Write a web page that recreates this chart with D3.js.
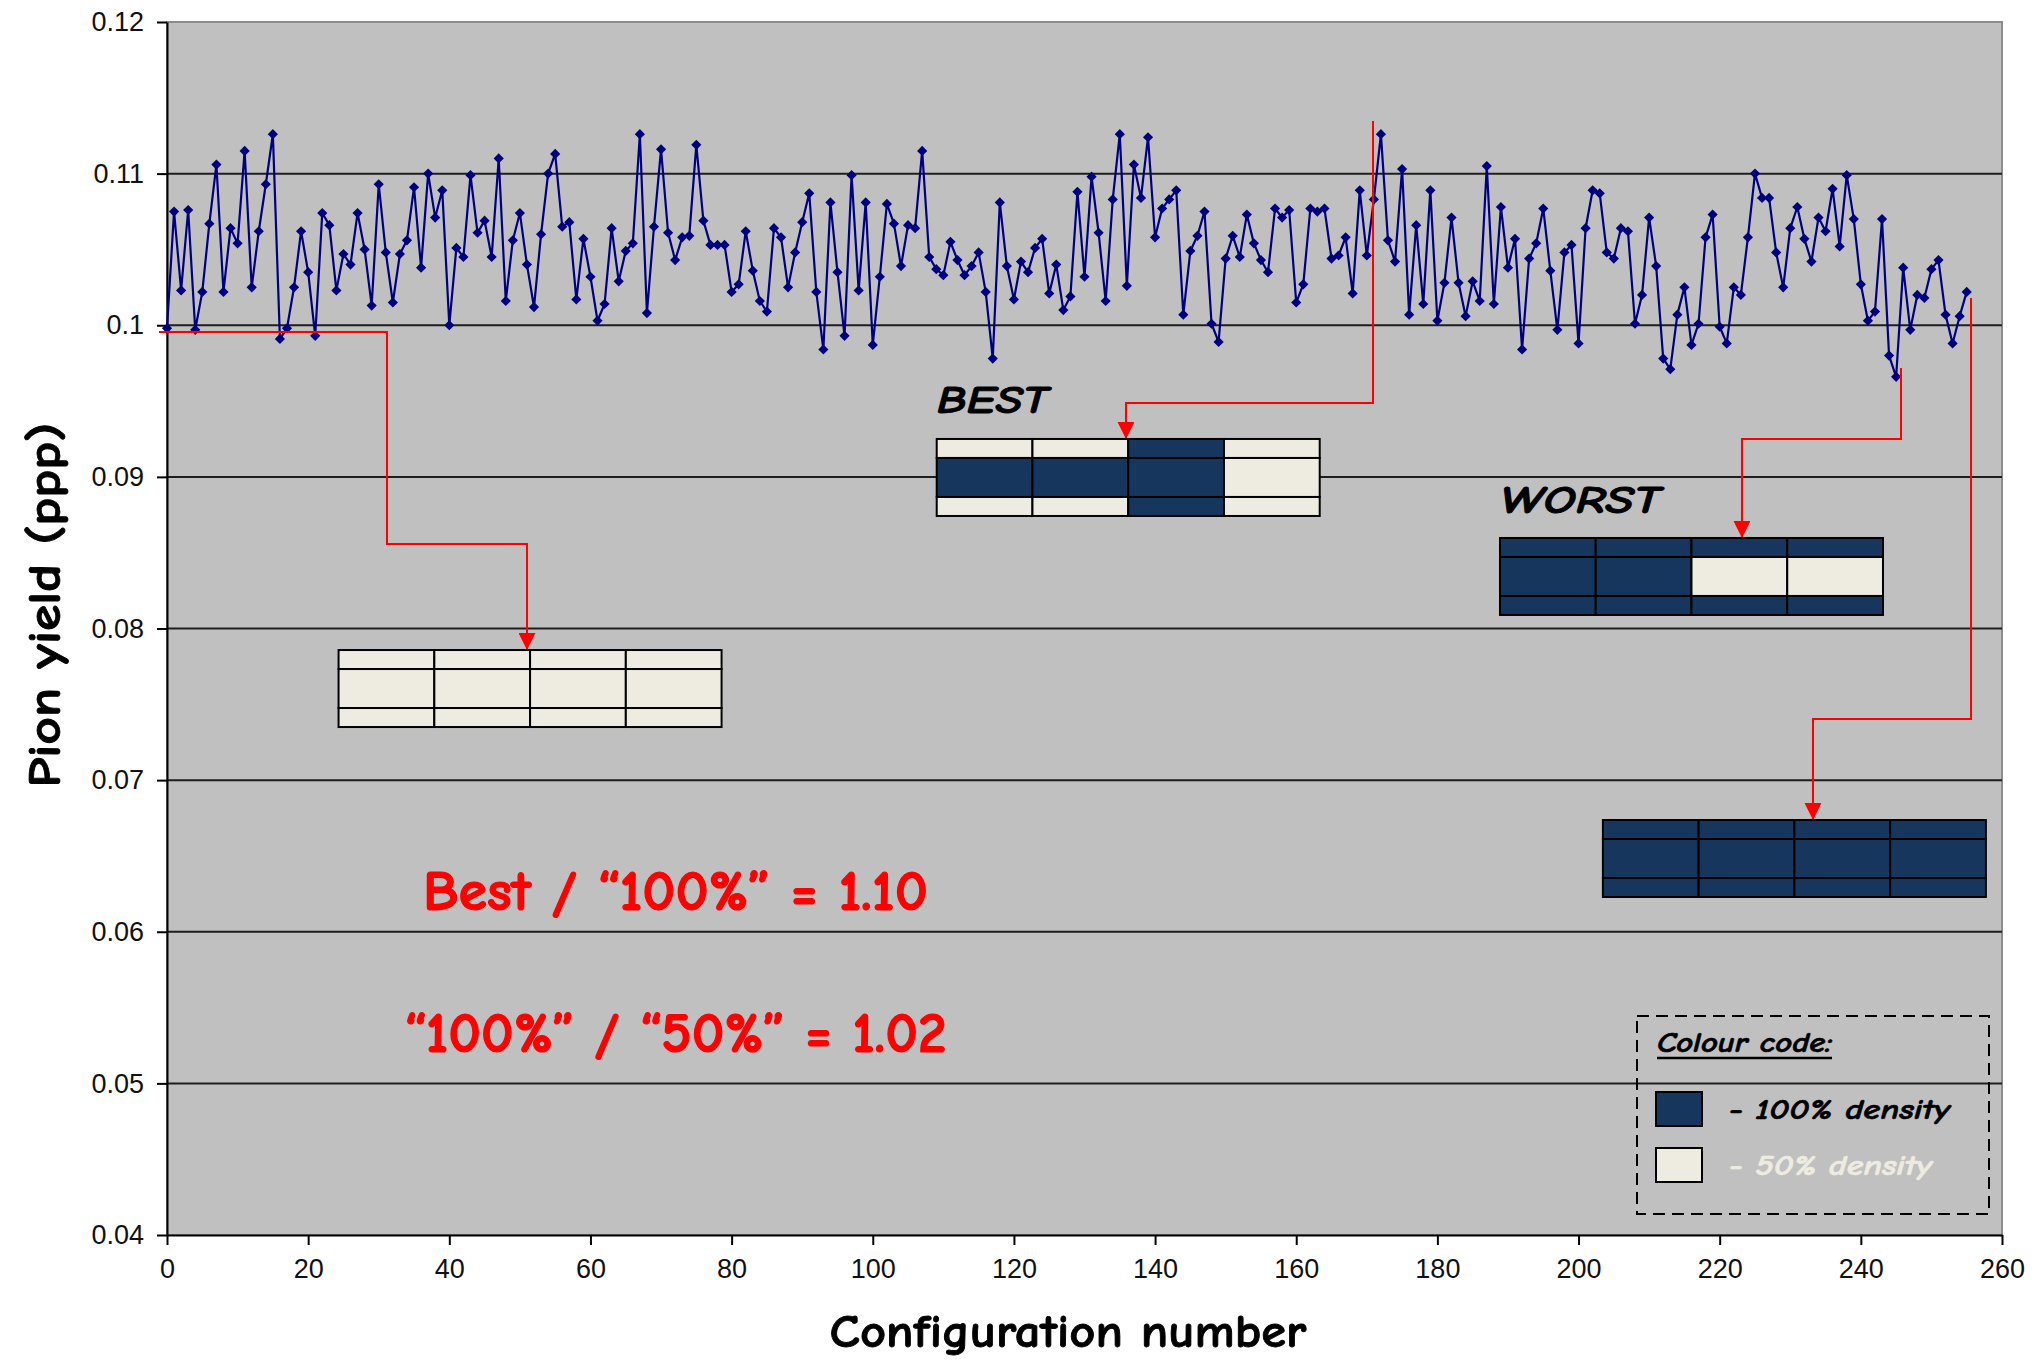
<!DOCTYPE html>
<html><head><meta charset="utf-8">
<script src="https://cdn.jsdelivr.net/npm/d3@7"></script>
<style>html,body{margin:0;padding:0;background:#fff;} svg{display:block;}</style>
</head><body><svg id="chart" width="2042" height="1360"></svg>
<script>
// ---------- DATA ----------
const pionYield = [
0.0998,0.1075,0.1023,0.1076,0.0997,0.1022,0.1067,0.1106,0.1022,0.1064,
0.1054,0.1115,0.1025,0.1062,0.1093,0.1126,0.0991,0.0998,0.1025,0.1062,
0.1035,0.0993,0.1074,0.1066,0.1023,0.1047,0.1040,0.1074,0.1050,0.1013,
0.1093,0.1048,0.1015,0.1047,0.1056,0.1091,0.1038,0.1100,0.1071,0.1089,
0.1000,0.1051,0.1045,0.1099,0.1061,0.1069,0.1045,0.1110,0.1016,0.1056,
0.1074,0.1040,0.1012,0.1060,0.1100,0.1113,0.1065,0.1068,0.1017,0.1057,
0.1032,0.1003,0.1014,0.1064,0.1029,0.1049,0.1054,0.1126,0.1008,0.1065,
0.1116,0.1061,0.1043,0.1058,0.1059,0.1119,0.1069,0.1053,0.1053,0.1053,
0.1022,0.1027,0.1062,0.1036,0.1016,0.1009,0.1064,0.1058,0.1025,0.1048,
0.1068,0.1087,0.1022,0.0984,0.1081,0.1035,0.0993,0.1099,0.1023,0.1081,
0.0987,0.1032,0.1080,0.1067,0.1039,0.1066,0.1064,0.1115,0.1045,0.1037,
0.1033,0.1055,0.1043,0.1033,0.1039,0.1048,0.1022,0.0978,0.1081,0.1039,
0.1017,0.1042,0.1035,0.1051,0.1057,0.1021,0.1040,0.1010,0.1019,0.1088,
0.1032,0.1098,0.1061,0.1016,0.1083,0.1126,0.1026,0.1106,0.1084,0.1124,
0.1058,0.1077,0.1083,0.1089,0.1007,0.1049,0.1059,0.1075,0.1001,0.0989,
0.1044,0.1059,0.1045,0.1073,0.1054,0.1043,0.1035,0.1077,0.1071,0.1076,
0.1015,0.1027,0.1077,0.1075,0.1077,0.1044,0.1046,0.1058,0.1021,0.1089,
0.1046,0.1083,0.1126,0.1056,0.1042,0.1103,0.1007,0.1066,0.1014,0.1089,
0.1003,0.1028,0.1071,0.1028,0.1006,0.1029,0.1016,0.1105,0.1014,0.1078,
0.1038,0.1057,0.0984,0.1044,0.1054,0.1077,0.1036,0.0997,0.1048,0.1053,
0.0988,0.1064,0.1089,0.1087,0.1048,0.1044,0.1064,0.1062,0.1001,0.1020,
0.1071,0.1039,0.0978,0.0971,0.1007,0.1025,0.0987,0.1001,0.1058,0.1073,
0.0999,0.0988,0.1025,0.1020,0.1058,0.1100,0.1084,0.1084,0.1048,0.1025,
0.1064,0.1078,0.1057,0.1042,0.1071,0.1062,0.1090,0.1052,0.1099,0.1070,
0.1027,0.1003,0.1009,0.1070,0.0980,0.0966,0.1038,0.0997,0.1020,0.1018,
0.1037,0.1043,0.1007,0.0988,0.1006,0.1022
];
const configNumbers = pionYield.map((v, i) => i);

const xTickValues = [0,20,40,60,80,100,120,140,160,180,200,220,240,260];
const xTickLabels = ["0","20","40","60","80","100","120","140","160","180","200","220","240","260"];
const yTickValues = [0.04,0.05,0.06,0.07,0.08,0.09,0.10,0.11,0.12];
const yTickLabels = ["0.04","0.05","0.06","0.07","0.08","0.09","0.1","0.11","0.12"];

// element states per configuration: [outer ring, inner part]; 1 = 100% density, 0 = 50%
const configAllHalf = [[0,0],[0,0],[0,0],[0,0]];
const configBest    = [[0,1],[0,1],[1,1],[0,0]];
const configWorst   = [[1,1],[1,1],[1,0],[1,0]];
const configAllFull = [[1,1],[1,1],[1,1],[1,1]];

const ratioTexts = ["Best / \u201C100%\u201D = 1.10", "\u201C100%\u201D / \u201C50%\u201D = 1.02"];
const legendTitle = "Colour code:";
const legendLabels = ["- 100% density", "- 50% density"];
const xTitle = "Configuration number";
const yTitle = "Pion yield (ppp)";

// ---------- LAYOUT ----------
const DARK = "#17365D", LIGHT = "#EEECE1", RED = "#FF0000", NAVY = "#000080";
const comic = "'Comic Sans MS','Comic Neue','DejaVu Sans',sans-serif";
const svg = d3.select("#chart");
const x = d3.scaleLinear().domain([0, 260]).range([167, 2002]);
const y = d3.scaleLinear().domain([0.04, 0.12]).range([1235, 22]);

// plot area
svg.append("rect")
  .attr("x", x(0)).attr("y", y(0.12))
  .attr("width", x(260) - x(0)).attr("height", y(0.04) - y(0.12))
  .attr("fill", "#C0C0C0").attr("stroke", "#8c8c8c").attr("stroke-width", 2);

// gridlines
svg.append("g").selectAll("line")
  .data(yTickValues.filter(v => v > 0.0401 && v < 0.1199))
  .join("line")
  .attr("x1", x(0)).attr("x2", x(260))
  .attr("y1", d => y(d)).attr("y2", d => y(d))
  .attr("stroke", "#1e1e1e").attr("stroke-width", 2);

// axes
const yAxis = d3.axisLeft(y).tickValues(yTickValues)
  .tickFormat((d, i) => yTickLabels[i]).tickSizeInner(10).tickSizeOuter(0).tickPadding(13);
const gy = svg.append("g").attr("transform", `translate(${x(0)},0)`).call(yAxis);
const xAxis = d3.axisBottom(x).tickValues(xTickValues)
  .tickFormat((d, i) => xTickLabels[i]).tickSizeInner(10).tickSizeOuter(0).tickPadding(14);
const gx = svg.append("g").attr("transform", `translate(0,${y(0.04)})`).call(xAxis);
[gx, gy].forEach(g => {
  g.select(".domain").attr("stroke", "#000").attr("stroke-width", 2);
  g.selectAll(".tick line").attr("stroke", "#000").attr("stroke-width", 2);
  g.selectAll(".tick text").attr("font-family", "'Liberation Sans',Arial,sans-serif")
    .attr("font-size", 27).attr("fill", "#111");
});

// data line
const line = d3.line().x((d, i) => x(configNumbers[i])).y(d => y(d));
svg.append("path").datum(pionYield)
  .attr("d", line).attr("fill", "none")
  .attr("stroke", NAVY).attr("stroke-width", 2.2).attr("stroke-linejoin", "round");
const sym = d3.symbol().type(d3.symbolSquare).size(52);
svg.append("g").selectAll("path")
  .data(pionYield)
  .join("path")
  .attr("d", sym)
  .attr("transform", (d, i) => `translate(${x(configNumbers[i])},${y(d)}) rotate(45)`)
  .attr("fill", NAVY);

// arrow marker
svg.append("defs").append("marker")
  .attr("id", "arr").attr("viewBox", "0 0 10 10")
  .attr("refX", 10).attr("refY", 5)
  .attr("markerUnits", "userSpaceOnUse")
  .attr("markerWidth", 17).attr("markerHeight", 17)
  .attr("orient", "auto")
  .append("path").attr("d", "M0,0 L10,5 L0,10 Z").attr("fill", RED);

// annotation arrows (in data units)
const arrows = [
  [[-1.13, 0.09956], [31.17, 0.09956], [31.17, 0.08557], [51.01, 0.08557], [51.01, 0.07858]],
  [[170.88, 0.11347], [170.88, 0.09487], [135.88, 0.09487], [135.88, 0.09250]],
  [[245.69, 0.09718], [245.69, 0.09250], [223.16, 0.09250], [223.16, 0.08597]],
  [[255.61, 0.10180], [255.61, 0.07403], [233.22, 0.07403], [233.22, 0.06737]]
];
const pline = d3.line().x(d => x(d[0])).y(d => y(d[1]));
svg.append("g").selectAll("path").data(arrows).join("path")
  .attr("d", pline).attr("fill", "none").attr("stroke", RED).attr("stroke-width", 2)
  .attr("marker-end", "url(#arr)");

// configuration boxes
const BOX_W = 383, ROWS = [19, 39, 19];
function drawBox(xl, yt, bits) {
  const g = svg.append("g");
  const px = x(xl), py = y(yt), cw = BOX_W / bits.length;
  bits.forEach((b, c) => {
    const cells = [[0, b[0]], [ROWS[0], b[1]], [ROWS[0] + ROWS[1], b[0]]];
    cells.forEach((cell, r) => {
      g.append("rect")
        .attr("x", px + c * cw).attr("y", py + cell[0])
        .attr("width", cw).attr("height", ROWS[r])
        .attr("fill", cell[1] ? DARK : LIGHT)
        .attr("stroke", "#000").attr("stroke-width", 2);
    });
  });
}
drawBox(24.31, 0.07858, configAllHalf);
drawBox(109.06, 0.09250, configBest);
drawBox(188.87, 0.08597, configWorst);
drawBox(203.45, 0.06737, configAllFull);

// box labels
function label(txt, xd, yd, size, len, opts = {}) {
  return svg.append("text")
    .attr("x", x(xd)).attr("y", y(yd))
    .attr("font-family", comic).attr("font-weight", "bold")
    .attr("font-style", opts.italic ? "italic" : "normal")
    .attr("font-size", size)
    .attr("text-anchor", opts.anchor || "start")
    .attr("fill", opts.fill || "#000")
    .attr("stroke", opts.fill || "#000").attr("stroke-width", opts.sw || 0)
    .attr("textLength", len).attr("lengthAdjust", "spacingAndGlyphs")
    .text(txt);
}
label("BEST", 109.06, 0.09421, 38, 111, {italic: true, sw: 0.8});
label("WORST", 188.87, 0.08762, 38, 160, {italic: true, sw: 0.8});
label(ratioTexts[0], 72.05, 0.06143, 56, 505, {anchor: "middle", fill: RED, sw: 1.2});
label(ratioTexts[1], 72.05, 0.05207, 56, 542, {anchor: "middle", fill: RED, sw: 1.2});

// legend
const lg = svg.append("g");
lg.append("rect").attr("x", 1637).attr("y", 1016).attr("width", 352).attr("height", 198)
  .attr("fill", "none").attr("stroke", "#000").attr("stroke-width", 2).attr("stroke-dasharray", "12,7");
lg.append("text").attr("x", 1657).attr("y", 1052)
  .attr("font-family", comic).attr("font-weight", "bold").attr("font-style", "italic")
  .attr("font-size", 29).attr("textLength", 175).attr("lengthAdjust", "spacingAndGlyphs")
  .attr("stroke", "#000").attr("stroke-width", 0.6)
  .text(legendTitle);
lg.append("line").attr("x1", 1657).attr("x2", 1832).attr("y1", 1058).attr("y2", 1058)
  .attr("stroke", "#000").attr("stroke-width", 2.5);
[[DARK, "#000", 1092, 1119, 221], [LIGHT, LIGHT, 1148, 1175, 203]].forEach((s, i) => {
  lg.append("rect").attr("x", 1656).attr("y", s[2]).attr("width", 46).attr("height", 34)
    .attr("fill", s[0]).attr("stroke", "#000").attr("stroke-width", 2);
  lg.append("text").attr("x", 1729).attr("y", s[3])
    .attr("font-family", comic).attr("font-weight", "bold").attr("font-style", "italic")
    .attr("font-size", 29).attr("fill", s[1]).attr("stroke", s[1]).attr("stroke-width", 0.6)
    .attr("textLength", s[4]).attr("lengthAdjust", "spacingAndGlyphs")
    .text(legendLabels[i]);
});

// axis titles
svg.append("text").attr("x", 1068).attr("y", 1347).attr("text-anchor", "middle")
  .attr("font-family", comic).attr("font-weight", "bold").attr("font-size", 46)
  .attr("stroke", "#000").attr("stroke-width", 0.8)
  .attr("textLength", 477).attr("lengthAdjust", "spacingAndGlyphs").text(xTitle);
svg.append("text").attr("transform", "translate(60,605) rotate(-90)").attr("text-anchor", "middle")
  .attr("font-family", comic).attr("font-weight", "bold").attr("font-size", 46)
  .attr("stroke", "#000").attr("stroke-width", 0.8)
  .attr("textLength", 365).attr("lengthAdjust", "spacingAndGlyphs").text(yTitle);
</script></body></html>
